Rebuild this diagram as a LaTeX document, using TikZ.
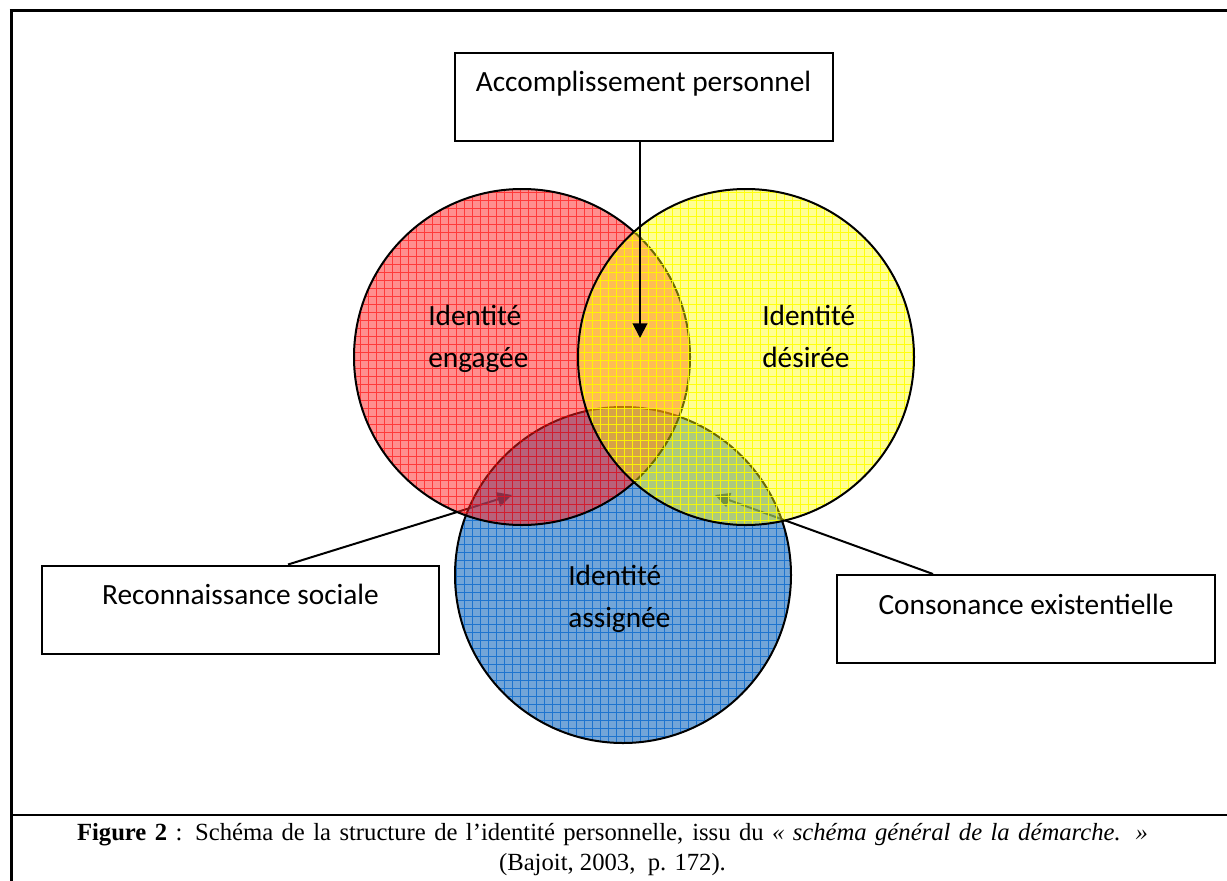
\documentclass[tikz,border=0pt]{standalone}
\usepackage{fontspec}
\setmainfont{Liberation Serif}
\newfontfamily\calibri{Carlito}
\usetikzlibrary{arrows.meta}

\definecolor{redbase}{RGB}{255,30,30}
\definecolor{redgrid}{RGB}{255,0,0}
\definecolor{yelbase}{RGB}{255,255,0}
\definecolor{yelgrid}{RGB}{255,255,0}
\definecolor{bluebase}{RGB}{20,105,190}
\definecolor{bluegrid}{RGB}{0,100,205}

\begin{document}
\begin{tikzpicture}[x=0.75pt,y=-0.75pt,
  box/.style={draw=black,line width=1.5pt,fill=white,inner sep=0pt,
    text height=29.25pt,text depth=36.75pt,
    font=\calibri\fontsize{22pt}{31.5pt}\selectfont},
  lbl/.style={inner sep=0pt,align=left,anchor=base west,
    font=\calibri\fontsize{22pt}{31.5pt}\selectfont},
  link/.style={line width=1.5pt,-{Triangle[length=11pt,width=11pt]}},
  ring/.style={draw=black,line width=1.5pt},
  framerule/.style={line width=2.25pt},
  hatch/.style={line width=0.5pt,step=6pt}]

\useasboundingbox (0,0) rectangle (1227,881);

% outer frame and caption separator
\draw[framerule] (9.5,10.5) -- (1232,10.5);
\draw[framerule] (11,9.5) -- (11,886);
\draw[line width=1.5pt] (11,815) -- (1232,815);

% text boxes
\node[box,minimum width=283.5pt] (acc) at (643.5,97) {Accomplissement personnel};
\node[box,minimum width=297.75pt] (rec) at (240.5,609.5) {Reconnaissance sociale};
\node[box,minimum width=283.5pt] (con) at (1026,619) {Consonance existentielle};

% arrow end points
\coordinate (accTip) at (640,338);
\coordinate (recFoot) at (288,565);
\coordinate (recTip) at (512,495);
\coordinate (conFoot) at (933,575);
\coordinate (conTip) at (715,495);

% side arrows lie under the translucent disks
\draw[link] (rec.north -| recFoot) -- (recTip);
\draw[link] (con.north -| conFoot) -- (conTip);

% blue disk
\fill[bluebase,fill opacity=0.6] (623,575) circle[radius=168];
\begin{scope}
  \clip (623,575) circle[radius=168];
  \draw[hatch,bluegrid,draw opacity=0.75] (450,750) grid (800,400);
\end{scope}
\draw[ring] (623,575) circle[radius=168];

% red disk
\fill[redbase,fill opacity=0.5] (522,357) circle[radius=168];
\begin{scope}
  \clip (522,357) circle[radius=168];
  \draw[hatch,redgrid,draw opacity=0.6] (350,530) grid (700,185);
\end{scope}
\draw[ring] (522,357) circle[radius=168];

% yellow disk
\fill[yelbase,fill opacity=0.42] (746,357) circle[radius=168];
\begin{scope}
  \clip (746,357) circle[radius=168];
  \draw[hatch,yelgrid,draw opacity=0.9] (575,530) grid (920,185);
\end{scope}
\draw[ring] (746,357) circle[radius=168];

% top arrow over the disks
\draw[link] (acc.south -| accTip) -- (accTip);

% disk labels (anchored on the second line)
\node[lbl] (eng) at (428,367) {Identité\\engagée};
\node[lbl] (des) at (762,367) {Identité\\désirée};
\node[lbl] (ass) at (568,627) {Identité\\assignée};

% caption: justified first line, centred second line
\node[inner sep=0pt,align=center,anchor=base,
  font=\fontsize{18.5pt}{22.5pt}\selectfont] (cap) at (612.5,870)
  {\makebox[803.25pt][s]{\textbf{Figure 2} : Schéma de la structure de l’identité personnelle, issu du \textit{« schéma général de la démarche. »}}\\
   (Bajoit, 2003, \ p. 172).};
\end{tikzpicture}
\end{document}
